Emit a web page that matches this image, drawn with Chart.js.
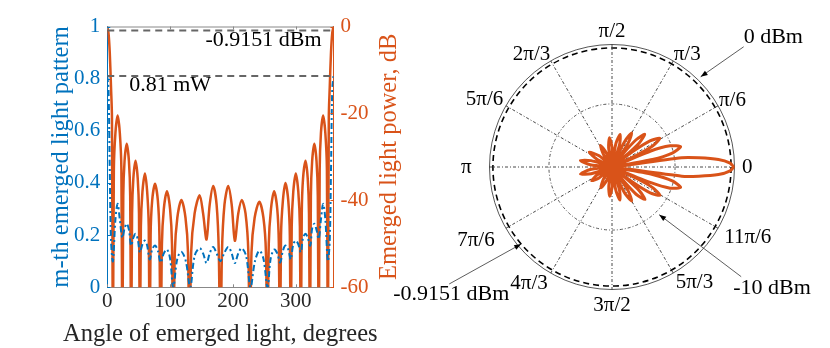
<!DOCTYPE html>
<html><head><meta charset="utf-8">
<script src="https://cdn.jsdelivr.net/npm/chart.js@4.4.1/dist/chart.umd.min.js"></script>
<style>
html,body{margin:0;padding:0;background:#fff;width:830px;height:348px;overflow:hidden;}
#left{position:absolute;left:0;top:0;width:420px;height:348px;}
#right{position:absolute;left:382px;top:18px;width:460px;height:299px;}
</style></head><body>
<div id="left"><canvas id="c1"></canvas></div>
<div id="right"><canvas id="c2"></canvas></div>
<script>
// ---------- data ----------
// Emerged light power (dB) vs angle (degrees)
const dbAngle = [0,2,4,6,7.5,9,10.5,13,16.5,20,22.5,24,25.5,27.5,31,34.5,36.5,38,39.5,41.5,45,48.5,50.5,52,
  53.5,56,60,63.5,66,67.5,69,71.5,76,80.5,83,85,87,90,95,100,103,105,107.5,111.5,118,124.5,128.5,131,
  133.5,139,147,152.5,158,163,168.5,174,177.5,180,182.5,186.5,192.5,198,203,208.5,214,220,224.5,227,
  229.5,234.5,242,248.5,252.5,255,257,260.5,265.5,270.5,273,275,276.5,279.5,283.5,288,290.5,292,
  293.5,296,300,304,306.5,308,309.5,311.5,315.5,319,321,322.5,324,326,329.5,333,335,336.5,
  338,340,343.5,347,349.5,351,352.5,354,356,358,360];
const dbValue = [0,-1.5,-6,-14,-21,-80,-33,-24.5,-20.5,-24.5,-33,-80,-39,-31,-27,-31,-39,-80,-43,-35,-30.9,-35,-43,-80,
  -46,-38,-33.8,-38,-46,-80,-48,-40,-36.2,-40,-48,-80,-50,-42,-37.9,-42,-50,-80,-52,-44,-39.9,-44,-52,-80,
  -52,-43,-38.8,-43,-49,-41,-36.7,-41,-52,-80,-52,-41,-36.7,-41,-49.3,-43,-39.9,-43,-52,-80,
  -52,-44,-40.3,-44,-52,-80,-50,-42,-37.9,-42,-50,-80,-48,-40,-36,-40,-48,-80,
  -46,-38,-33.8,-38,-46,-80,-43,-35,-30.9,-35,-43,-80,-39,-31,-27,-31,-39,-80,
  -33,-24.5,-20.5,-24.5,-33,-80,-21,-14,-6,-1.5,0];
// m-th emerged light pattern (linear) vs angle (degrees)
const patAngle = [0,2,4,6,9,13,16.5,20,24,27.5,31,34.5,38,41.5,45,48.5,52,56,60,63.5,67.5,71.5,76,80.5,85,90,95,100,105,
  111.5,118,125,132,139,147,152.5,158,163,168.5,174,180,186,192.5,198,203,208.5,214,221,228,235,242,248.5,255,
  260,265.5,270.5,275,279.5,283.5,288,292,296,300,304,308,311.5,315.5,319,323,326,329.5,333,336.5,340,343.5,347,351,354,356,358,360];
const patValue = [0.81,0.76,0.45,0.18,0.1,0.26,0.32,0.26,0.19,0.225,0.244,0.22,0.16,0.19,0.205,0.185,0.134,0.165,0.179,0.16,0.107,0.145,0.16,0.14,0.095,0.13,0.145,0.11,0,
  0.11,0.136,0.1,0,0.12,0.15,0.13,0.093,0.13,0.155,0.13,0.1,0.13,0.155,0.13,0.093,0.13,0.15,0.12,0,0.1,0.14,0.11,0,
  0.11,0.145,0.13,0.095,0.14,0.16,0.145,0.107,0.165,0.179,0.165,0.134,0.19,0.205,0.19,0.16,0.225,0.244,0.22,0.186,0.26,0.32,0.26,0.1,0.18,0.45,0.76,0.81];
const refPowerMw = 0.81;       // dashed level, left axis
const refPowerDbm = -0.9151;   // dashed level, right axis / polar circle
const polarInnerDb = -24;      // inner dash-dot circle of the polar plot (labelled -10 dBm)
const polarTickLabels = ['0','π/6','π/3','π/2','2π/3','5π/6','π','7π/6','4π/3','3π/2','5π/3','11π/6'];
const xTitle = 'Angle of emerged light, degrees';
const yTitle = 'm-th emerged light pattern';
const y1Title = 'Emerged light power, dB';

// ---------- styling ----------
const FONT = "'Liberation Serif','Times New Roman',serif";
const BLUE = '#0072BD', ORANGE = '#D95319', INK = '#262626';
Chart.defaults.font.family = FONT;

// ---------- left chart ----------
const leftDecor = {
  id: 'leftDecor',
  afterDraw(chart) {
    const {ctx, chartArea: a, scales: {x, y, y1}} = chart;
    ctx.save();
    ctx.lineWidth = 1;
    ctx.strokeStyle = '#888';
    ctx.beginPath(); ctx.moveTo(a.left, a.top + 0.5); ctx.lineTo(a.right, a.top + 0.5); ctx.stroke();
    const tl = 3;
    ctx.beginPath();
    x.ticks.forEach(t => { const p = Math.round(x.getPixelForValue(t.value)) + 0.5;
      ctx.moveTo(p, a.bottom); ctx.lineTo(p, a.bottom - tl); ctx.moveTo(p, a.top); ctx.lineTo(p, a.top + tl); });
    ctx.stroke();
    ctx.strokeStyle = BLUE; ctx.beginPath();
    y.ticks.forEach(t => { const p = Math.round(y.getPixelForValue(t.value)) + 0.5; ctx.moveTo(a.left, p); ctx.lineTo(a.left + tl, p); });
    ctx.stroke();
    ctx.strokeStyle = ORANGE; ctx.beginPath();
    y1.ticks.forEach(t => { const p = Math.round(y1.getPixelForValue(t.value)) + 0.5; ctx.moveTo(a.right, p); ctx.lineTo(a.right - tl, p); });
    ctx.stroke();
    // annotations
    ctx.fillStyle = '#000'; ctx.font = '22px ' + FONT; ctx.textBaseline = 'middle';
    ctx.textAlign = 'right';
    ctx.fillText(refPowerDbm.toString() + ' dBm', a.right - 12, y1.getPixelForValue(refPowerDbm) + 10);
    ctx.textAlign = 'left';
    ctx.fillText(refPowerMw.toString() + ' mW', a.left + 22, y.getPixelForValue(refPowerMw) + 9);
    // axis titles
    ctx.font = '24.5px ' + FONT; ctx.textAlign = 'center';
    ctx.fillStyle = INK;
    ctx.fillText(xTitle, (a.left + a.right) / 2, a.bottom + 47);
    const midY = (a.top + a.bottom) / 2;
    ctx.save();
    ctx.translate(a.left - 46, midY); ctx.rotate(-Math.PI / 2);
    ctx.fillStyle = BLUE; ctx.fillText(yTitle, 0, 0);
    ctx.restore();
    ctx.translate(a.right + 56, midY); ctx.rotate(-Math.PI / 2);
    ctx.fillStyle = ORANGE; ctx.fillText(y1Title, 0, 0);
    ctx.restore();
  }
};

new Chart(document.getElementById('c1'), {
  type: 'line',
  data: {
    datasets: [
      { data: [{x: 0, y: refPowerDbm}, {x: 360, y: refPowerDbm}], yAxisID: 'y1', borderColor: '#666', borderWidth: 2, borderDash: [7, 5], pointRadius: 0 },
      { data: [{x: 0, y: refPowerMw}, {x: 360, y: refPowerMw}], yAxisID: 'y', borderColor: '#666', borderWidth: 2, borderDash: [7, 5], pointRadius: 0 },
      { data: patAngle.map((v, i) => ({x: v, y: patValue[i]})), yAxisID: 'y', borderColor: BLUE, borderWidth: 2, borderDash: [6, 3, 2, 3], pointRadius: 0, tension: 0.35 },
      { data: dbAngle.map((v, i) => ({x: v, y: dbValue[i]})), yAxisID: 'y1', borderColor: ORANGE, borderWidth: 2.5, pointRadius: 0, tension: 0.3, borderJoinStyle: 'round' }
    ]
  },
  options: {
    responsive: true, maintainAspectRatio: false, animation: false, devicePixelRatio: 1,
    layout: { padding: { left: 67, right: 44.5, top: 26.5, bottom: 31.5 } },
    plugins: { legend: { display: false }, tooltip: { enabled: false } },
    scales: {
      x: { type: 'linear', min: 0, max: 360,
        ticks: { stepSize: 100, includeBounds: false, maxRotation: 0, padding: 2, color: INK, font: { size: 21 } },
        grid: { display: false, drawTicks: false }, border: { color: '#888', width: 1 } },
      y: { position: 'left', min: 0, max: 1,
        ticks: { stepSize: 0.2, padding: 7, color: BLUE, font: { size: 21 }, callback: v => String(+v.toFixed(1)) },
        grid: { display: false, drawTicks: false }, border: { color: BLUE, width: 1 } },
      y1: { position: 'right', min: -60, max: 0,
        ticks: { stepSize: 20, padding: 7, color: ORANGE, font: { size: 21 } },
        grid: { display: false, drawTicks: false }, border: { color: ORANGE, width: 1 } }
    }
  },
  plugins: [leftDecor]
});

// ---------- polar chart (radar with 0.5 degree slots) ----------
const POLAR_MIN = -50, POLAR_MAX = 0.5, SLOTS = 720;
const slotAngle = i => ((SLOTS - i) % SLOTS) / 2;   // counter-clockwise from the right
const radarLabels = Array.from({length: SLOTS}, (_, i) => {
  const t = slotAngle(i); return t % 30 === 0 ? polarTickLabels[t / 30] : '';
});
const radarData = new Array(SLOTS).fill(null);
dbAngle.forEach((a, k) => {
  if (a >= 360) return;
  radarData[(SLOTS - Math.round(a * 2)) % SLOTS] = Math.max(dbValue[k], POLAR_MIN);
});

const polarNotes = [
  { text: '0 dBm', value: POLAR_MAX, angle: 45.5, extra: 4, tail: [43, -30], textAt: [0, -10] },
  { text: '-10 dBm', value: polarInnerDb, angle: -45.3, extra: 4, tail: [82, 62], textAt: [-8, 12] },
  { text: refPowerDbm + ' dBm', value: refPowerDbm, angle: 220.3, extra: 0, tail: [-72, 40], textAt: [-56, 10] }
];
const polarDecor = {
  id: 'polarDecor',
  afterDraw(chart) {
    const s = chart.scales.r, ctx = chart.ctx;
    ctx.save();
    ctx.font = '22px ' + FONT; ctx.fillStyle = '#000'; ctx.strokeStyle = '#333'; ctx.lineWidth = 0.8;
    ctx.textBaseline = 'middle'; ctx.textAlign = 'left';
    polarNotes.forEach(n => {
      const d = s.getDistanceFromCenterForValue(n.value) + n.extra;
      const th = n.angle * Math.PI / 180;
      const tx = s.xCenter + d * Math.cos(th), ty = s.yCenter - d * Math.sin(th);
      const bx = tx + n.tail[0], by = ty + n.tail[1];
      ctx.beginPath(); ctx.moveTo(bx, by); ctx.lineTo(tx, ty); ctx.stroke();
      const ang = Math.atan2(ty - by, tx - bx), L = 7, W = 2.6;
      ctx.beginPath(); ctx.moveTo(tx, ty);
      ctx.lineTo(tx - L * Math.cos(ang) + W * Math.sin(ang), ty - L * Math.sin(ang) - W * Math.cos(ang));
      ctx.lineTo(tx - L * Math.cos(ang) - W * Math.sin(ang), ty - L * Math.sin(ang) + W * Math.cos(ang));
      ctx.closePath(); ctx.fill();
      ctx.fillText(n.text, bx + n.textAt[0], by + n.textAt[1]);
    });
    ctx.restore();
  }
};

// per-label gap between the outer circle and its label (style only);
// the two blank slots next to the poles reserve room so the labels are not cut
const labelGap = {0: 7.5, 30: 1, 60: 1, 90: 7.5, 90.5: 16, 120: 1, 150: 3, 180: 18, 210: 13, 240: 6, 270: 11, 270.5: 16, 300: 5, 330: 7};

new Chart(document.getElementById('c2'), {
  type: 'radar',
  data: { labels: radarLabels,
    datasets: [{ data: radarData, borderColor: ORANGE, borderWidth: 3, pointRadius: 0, fill: false, spanGaps: true, tension: 0.25, borderJoinStyle: 'round' }] },
  options: {
    responsive: true, maintainAspectRatio: false, animation: false, devicePixelRatio: 1,
    plugins: { legend: { display: false }, tooltip: { enabled: false } },
    scales: {
      r: {
        min: POLAR_MIN, max: POLAR_MAX, startAngle: 90,
        afterBuildTicks: sc => { sc.ticks = [POLAR_MIN, polarInnerDb, refPowerDbm, POLAR_MAX].map(v => ({value: v})); },
        ticks: { display: false },
        grid: { circular: true,
          color: c => c.index === 2 ? '#000' : '#444',
          lineWidth: c => c.index === 0 ? 0 : (c.index === 2 ? 1.6 : 0.9),
          borderDash: c => c.index === 1 ? [3, 2, 1, 2] : (c.index === 2 ? [6, 4] : []) },
        border: { dash: c => c.index === 1 ? [3, 2, 1, 2] : (c.index === 2 ? [6, 4] : []) },
        angleLines: { display: true, color: '#333', lineWidth: c => c.index % 60 === 0 ? 0.9 : 0, borderDash: [3, 2, 1, 2] },
        pointLabels: { display: true, color: '#000', font: { size: 21, lineHeight: 0.5 },
          padding: c => labelGap[slotAngle(c.index)] ?? 0 }
      }
    }
  },
  plugins: [polarDecor]
});
</script>
</body></html>
